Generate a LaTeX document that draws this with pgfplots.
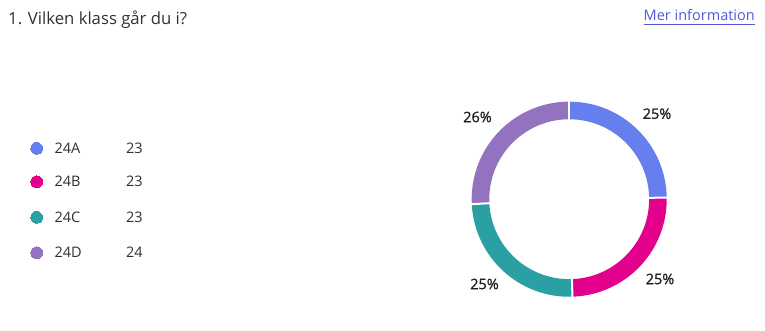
\documentclass[border=0pt]{standalone}
\usepackage{pgfplots}
\pgfplotsset{compat=1.18}
\usepackage{pgfplotstable}
\usepackage{fontspec}
\setmainfont{Open Sans}
\newfontfamily\pctfont{Open Sans}[FakeBold=1.2]
\definecolor{cA}{HTML}{6580EE}
\definecolor{cB}{HTML}{E3008C}
\definecolor{cC}{HTML}{2AA0A4}
\definecolor{cD}{HTML}{9373C0}
\definecolor{txt}{HTML}{323130}
\definecolor{pct}{HTML}{201F1E}
\definecolor{linkc}{HTML}{5358DA}

\pgfplotstableread{
name n
24A 23
24B 23
24C 23
24D 24
}\classdata

\begin{document}
\begin{tikzpicture}
\useasboundingbox (0,0) rectangle (765pt,330pt);
\pgfplotstablegetelem{0}{n}\of\classdata \let\nA\pgfplotsretval
\pgfplotstablegetelem{1}{n}\of\classdata \let\nB\pgfplotsretval
\pgfplotstablegetelem{2}{n}\of\classdata \let\nC\pgfplotsretval
\pgfplotstablegetelem{3}{n}\of\classdata \let\nD\pgfplotsretval
\pgfmathsetmacro\tot{\nA+\nB+\nC+\nD}
\pgfmathsetmacro\aA{90-360*\nA/\tot}
\pgfmathsetmacro\aB{\aA-360*\nB/\tot}
\pgfmathsetmacro\aC{\aB-360*\nC/\tot}
\pgfmathsetmacro\aD{\aC-360*\nD/\tot}
\def\cx{569.2}
\def\cy{130.8}
\begin{axis}[at={(0,0)}, anchor=south west, scale only axis,
  width=765pt, height=330pt, xmin=0, xmax=765, ymin=0, ymax=330,
  hide axis, clip=false]
% legend dots
\addplot[only marks, mark=*, mark size=5.9pt, mark options={fill=cA, draw=cA, line width=0pt}] coordinates {(36.7,181.7)};
\addplot[only marks, mark=*, mark size=5.9pt, mark options={fill=cB, draw=cB, line width=0pt}] coordinates {(36.7,148.3)};
\addplot[only marks, mark=*, mark size=5.9pt, mark options={fill=cC, draw=cC, line width=0pt}] coordinates {(36.7,112.7)};
\addplot[only marks, mark=*, mark size=5.9pt, mark options={fill=cD, draw=cD, line width=0pt}] coordinates {(36.7,77.3)};
% donut
\draw[cA, line width=17.6pt] (axis cs:\cx,\cy) ++(90:88.75pt) arc[start angle=90, end angle=\aA, radius=88.75pt];
\draw[cB, line width=17.6pt] (axis cs:\cx,\cy) ++(\aA:88.75pt) arc[start angle=\aA, end angle=\aB, radius=88.75pt];
\draw[cC, line width=17.6pt] (axis cs:\cx,\cy) ++(\aB:88.75pt) arc[start angle=\aB, end angle=\aC, radius=88.75pt];
\draw[cD, line width=17.6pt] (axis cs:\cx,\cy) ++(\aC:88.75pt) arc[start angle=\aC, end angle=\aD, radius=88.75pt];
\draw[white, line width=2pt] (axis cs:\cx,\cy) ++(90:77pt) -- ++(90:24pt);
\draw[white, line width=2pt] (axis cs:\cx,\cy) ++(\aA:77pt) -- ++(\aA:24pt);
\draw[white, line width=2pt] (axis cs:\cx,\cy) ++(\aB:77pt) -- ++(\aB:24pt);
\draw[white, line width=2pt] (axis cs:\cx,\cy) ++(\aC:77pt) -- ++(\aC:24pt);
% percent labels
\node[font=\pctfont\fontsize{14.5}{17}\selectfont, text=pct] at (axis cs:657,216.3) {25\%};
\node[font=\pctfont\fontsize{14.5}{17}\selectfont, text=pct] at (axis cs:660,51) {25\%};
\node[font=\pctfont\fontsize{14.5}{17}\selectfont, text=pct] at (axis cs:484.5,46) {25\%};
\node[font=\pctfont\fontsize{14.5}{17}\selectfont, text=pct] at (axis cs:477.5,213) {26\%};
% title
\node[anchor=base west, inner sep=0pt, text=txt, font=\fontsize{16.7}{20}\selectfont] at (axis cs:8,305.5) {1. Vilken klass går du i?};
\node[anchor=base east, inner sep=0pt, text=linkc, font=\fontsize{14.5}{18}\selectfont] (mi) at (axis cs:755,309.3) {Mer information};
\draw[linkc, line width=1pt] ([yshift=-3.5pt]mi.base west) -- ([yshift=-3.5pt]mi.base east);
% legend text
\node[anchor=base west, inner sep=0pt, text=txt, font=\fontsize{14.5}{18}\selectfont] at (axis cs:54.3,176.7) {24A};
\node[anchor=base west, inner sep=0pt, text=txt, font=\fontsize{14.5}{18}\selectfont] at (axis cs:54.3,143.3) {24B};
\node[anchor=base west, inner sep=0pt, text=txt, font=\fontsize{14.5}{18}\selectfont] at (axis cs:54.3,107.7) {24C};
\node[anchor=base west, inner sep=0pt, text=txt, font=\fontsize{14.5}{18}\selectfont] at (axis cs:54.3,72.3) {24D};
\node[anchor=base west, inner sep=0pt, text=txt, font=\fontsize{14.5}{18}\selectfont] at (axis cs:126,176.7) {\nA};
\node[anchor=base west, inner sep=0pt, text=txt, font=\fontsize{14.5}{18}\selectfont] at (axis cs:126,143.3) {\nB};
\node[anchor=base west, inner sep=0pt, text=txt, font=\fontsize{14.5}{18}\selectfont] at (axis cs:126,107.7) {\nC};
\node[anchor=base west, inner sep=0pt, text=txt, font=\fontsize{14.5}{18}\selectfont] at (axis cs:126,72.3) {\nD};
\end{axis}
\end{tikzpicture}
\end{document}
